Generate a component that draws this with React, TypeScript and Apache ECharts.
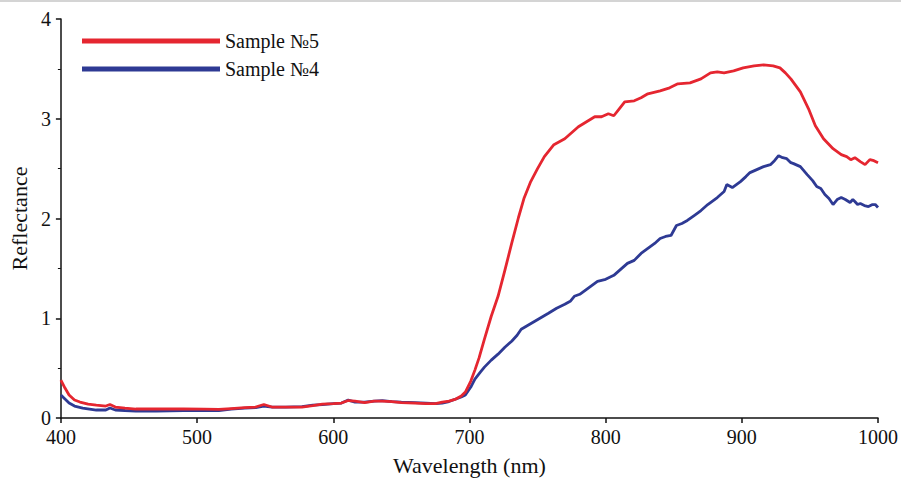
import React, { useEffect, useRef } from "react";
import * as echarts from "echarts";

const seriesNames = ["Sample №5", "Sample №4"];
const xTicks = { min: 400, max: 1000, interval: 100 };
const yTicks = { min: 0, max: 4, interval: 1 };

const wl5 = [400, 403, 406, 410, 414, 420, 426, 433, 436, 440, 447, 455, 470, 490, 505, 516, 525, 535, 543, 549, 555, 565, 577, 585, 592, 600, 606, 611, 616, 623, 630, 636, 643, 650, 660, 668, 675, 680, 685, 690, 694, 697, 701, 704, 707, 711, 716, 721, 726, 731, 736, 740, 745, 750, 755, 762, 770, 775, 780, 786, 792, 797, 802, 806, 810, 814, 821, 826, 831, 840, 847, 853, 862, 870, 877, 882, 887, 894, 901, 909, 916, 923, 928, 932, 936, 943, 949, 954, 960, 967, 973, 977, 980, 983, 987, 990.5, 994, 997, 1000];
const refl5 = [0.38, 0.30, 0.23, 0.18, 0.16, 0.14, 0.13, 0.12, 0.135, 0.11, 0.10, 0.09, 0.09, 0.09, 0.088, 0.086, 0.095, 0.105, 0.11, 0.135, 0.11, 0.11, 0.11, 0.125, 0.14, 0.145, 0.15, 0.175, 0.17, 0.155, 0.17, 0.17, 0.165, 0.155, 0.15, 0.145, 0.145, 0.16, 0.17, 0.19, 0.22, 0.26, 0.37, 0.48, 0.60, 0.79, 1.02, 1.22, 1.48, 1.75, 2.01, 2.20, 2.37, 2.50, 2.62, 2.74, 2.80, 2.86, 2.92, 2.97, 3.02, 3.02, 3.05, 3.03, 3.10, 3.17, 3.18, 3.21, 3.25, 3.28, 3.31, 3.35, 3.36, 3.40, 3.46, 3.47, 3.46, 3.48, 3.51, 3.53, 3.54, 3.53, 3.51, 3.46, 3.40, 3.27, 3.10, 2.93, 2.80, 2.70, 2.64, 2.62, 2.59, 2.61, 2.57, 2.54, 2.59, 2.58, 2.56];

const wl4 = [400, 403, 406, 410, 416, 421, 426, 433, 436, 440, 447, 455, 470, 490, 505, 516, 525, 535, 543, 549, 555, 565, 577, 585, 592, 600, 606, 611, 616, 623, 630, 636, 643, 650, 660, 668, 675, 680, 685, 690, 694, 697, 701, 704, 708, 711, 716, 721, 726, 731, 735, 738, 743, 748, 753, 758, 764, 770, 774, 777, 781, 784, 789, 794, 800, 806, 811, 816, 821, 826, 831, 836, 840, 844, 848, 852, 856, 860, 865, 870, 875, 882, 887, 889, 893, 899, 903, 906, 911, 916, 921, 924, 927, 930, 933, 936, 938, 943, 948, 952, 955, 958, 961, 964, 967, 970, 973, 976, 979.5, 981.5, 983, 985, 987, 990, 993, 996, 998, 1000];
const refl4 = [0.23, 0.19, 0.15, 0.12, 0.10, 0.09, 0.08, 0.08, 0.10, 0.08, 0.075, 0.07, 0.07, 0.075, 0.075, 0.075, 0.09, 0.10, 0.105, 0.12, 0.11, 0.11, 0.115, 0.13, 0.135, 0.145, 0.15, 0.18, 0.16, 0.16, 0.17, 0.175, 0.165, 0.16, 0.155, 0.15, 0.145, 0.15, 0.165, 0.19, 0.21, 0.23, 0.31, 0.39, 0.46, 0.51, 0.58, 0.64, 0.71, 0.77, 0.83, 0.89, 0.93, 0.97, 1.01, 1.05, 1.10, 1.14, 1.17, 1.22, 1.24, 1.27, 1.32, 1.37, 1.39, 1.43, 1.49, 1.55, 1.58, 1.65, 1.70, 1.75, 1.80, 1.82, 1.83, 1.93, 1.95, 1.98, 2.03, 2.08, 2.14, 2.21, 2.27, 2.34, 2.31, 2.37, 2.42, 2.46, 2.49, 2.52, 2.54, 2.58, 2.63, 2.61, 2.60, 2.56, 2.55, 2.52, 2.44, 2.38, 2.32, 2.30, 2.24, 2.20, 2.14, 2.19, 2.21, 2.19, 2.16, 2.19, 2.17, 2.14, 2.15, 2.13, 2.12, 2.14, 2.14, 2.11];

const RED = "#e52630";
const BLUE = "#2e3a94";
const FONT = "'Liberation Serif', 'Times New Roman', serif";

export default function App() {
  const ref = useRef<HTMLDivElement>(null);
  useEffect(() => {
    if (!ref.current) return;
    const chart = echarts.init(ref.current, undefined, { renderer: "svg" });
    const pairs = (xs: number[], ys: number[]) => xs.map((x, i) => [x, ys[i]]);
    chart.setOption({
      animation: false,
      backgroundColor: "#ffffff",
      textStyle: { fontFamily: FONT },
      grid: { left: 58, right: 23, top: 19, bottom: 58, containLabel: false },
      legend: {
        show: true,
        orient: "vertical",
        left: 77,
        top: 26,
        itemWidth: 138,
        itemHeight: 5,
        itemGap: 8,
        icon: "rect",
        textStyle: { fontFamily: FONT, fontSize: 20, color: "#111" },
        data: [
          { name: seriesNames[0], itemStyle: { color: RED } },
          { name: seriesNames[1], itemStyle: { color: BLUE } },
        ],
      },
      graphic: [
        { type: "rect", left: 0, top: 0, shape: { width: 901, height: 2 }, style: { fill: "#d4d4d4" }, silent: true },
      ],
      xAxis: {
        type: "value",
        min: xTicks.min,
        max: xTicks.max,
        interval: xTicks.interval,
        name: "Wavelength (nm)",
        nameLocation: "middle",
        nameGap: 36,
        nameTextStyle: { fontFamily: FONT, fontSize: 22, color: "#111" },
        axisLine: { show: true, onZero: false, lineStyle: { color: "#111", width: 1.5 } },
        axisTick: { show: true, inside: false, length: 5, lineStyle: { color: "#111", width: 1.5 } },
        axisLabel: { fontFamily: FONT, fontSize: 20, color: "#111", margin: 9, formatter: (v: number) => String(v) },
        splitLine: { show: false },
      },
      yAxis: {
        type: "value",
        min: yTicks.min,
        max: yTicks.max,
        interval: yTicks.interval,
        name: "Reflectance",
        nameLocation: "middle",
        nameGap: 30,
        nameTextStyle: { fontFamily: FONT, fontSize: 22, color: "#111" },
        axisLine: { show: true, lineStyle: { color: "#111", width: 1.5 } },
        axisTick: { show: true, inside: false, length: 5, lineStyle: { color: "#111", width: 1.5 } },
        minorTick: { show: true, splitNumber: 2, length: 3, lineStyle: { color: "#111", width: 1 } },
        axisLabel: { fontFamily: FONT, fontSize: 20, color: "#111", margin: 10, formatter: (v: number) => String(v) },
        splitLine: { show: false },
      },
      series: [
        {
          name: seriesNames[1],
          type: "line",
          data: pairs(wl4, refl4),
          showSymbol: false,
          symbol: "none",
          lineStyle: { color: BLUE, width: 2.8 },
          itemStyle: { color: BLUE },
          z: 2,
        },
        {
          name: seriesNames[0],
          type: "line",
          data: pairs(wl5, refl5),
          showSymbol: false,
          symbol: "none",
          lineStyle: { color: RED, width: 2.8 },
          itemStyle: { color: RED },
          z: 3,
        },
      ],
    });
    return () => chart.dispose();
  }, []);
  return (
    <div
      ref={ref}
      style={{ position: "fixed", left: 0, top: 0, width: 901, height: 481 }}
    />
  );
}
